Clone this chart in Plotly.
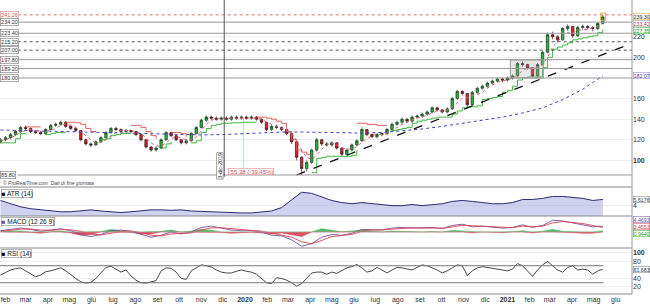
import pandas as pd
import plotly.graph_objects as go
from plotly.subplots import make_subplots

# ---------------- data (weekly) ----------------
start_week = "2019-01-25"
n_weeks = 121
opens = [118,120,122,125,128,132,131,128,127,126,130,134,135,137,133,131,129,120,116,115,
         118,122,127,131,130,128,129,128,125,120,113,110,112,120,127,124,120,117,119,126,
         132,139,142,141,140,141,140,142,141,142,141,142,140,137,130,133,132,130,126,118,
         103,92,98,110,120,116,115,117,112,106,110,115,119,130,125,123,125,126,130,135,
         137,140,138,142,143,145,147,151,149,147,150,160,167,165,154,166,170,172,175,177,
         179,178,180,182,194,193,190,182,193,205,222,220,217,228,230,221,229,230,229,228,233]
closes = [120,122,125,128,132,131,128,127,126,130,134,135,137,133,131,129,120,116,115,118,
          122,127,131,130,128,129,128,125,120,113,110,112,120,127,124,120,117,119,126,132,
          139,142,141,140,141,140,142,141,142,141,142,140,137,130,133,132,130,126,118,103,
          92,98,110,120,116,115,117,112,106,110,115,119,130,125,123,125,126,130,135,137,
          140,138,142,143,145,147,151,149,147,150,160,167,165,154,166,170,172,175,177,179,
          178,180,182,194,193,190,182,193,205,222,220,217,228,230,221,229,230,229,228,233,239.3]
highs = [121.5,123.5,126.5,129.5,133.5,134,132,129.5,128.5,131.5,135.5,136.5,138.5,138,134.5,132,129.5,121,117.5,119.5,
         123.5,128.5,132.5,132.5,131,130.5,130,128.5,125.5,120.5,114,113.5,121.5,128.5,128,124.5,121,120.5,127.5,133.5,
         140.5,143.5,143.5,142.5,142.5,142.5,143.5,143.5,143.5,143.5,143.5,143,141,137.5,134.5,134.5,133,130.5,126.5,118.5,
         104,100,111.5,122,121,118,118.5,117.5,112.5,111.5,116.5,120.5,132,130.5,126,126.5,127.5,131.5,136.5,138.5,
         141.5,141,143.5,144.5,146.5,148.5,152.5,152,150,151.5,161.5,168.5,168,165.5,167.5,171.5,173.5,176.5,178.5,180.5,
         180.5,181.5,183.5,195.5,196,194,190.5,194.5,206.5,224,225,221.5,229.5,232,230.5,230.5,232,231.5,230.5,234.5,241.26]
lows = [116.5,118.5,120.5,123.5,126.5,129,126.5,125.5,124.5,125,129,132.5,133.5,131.5,129.5,127.5,118.5,114.5,113,114,
        117,121,126,128.5,126.5,126.5,126.5,123.5,118.5,111.5,108.5,108.5,111,119,122.5,118.5,115.5,115.5,118,125,
        131,137.5,139.5,138.5,138.5,138.5,138.5,139.5,139.5,139.5,139.5,138.5,135.5,128.5,128.5,130.5,128.5,124.5,116,100,
        85.8,89,96.5,108.5,114,113.5,113.5,110.5,104,104.5,108.5,113.5,118,123.5,121.5,121.5,123.5,124.5,129,133.5,
        135.5,136.5,136.5,140.5,141.5,143.5,145.5,147.5,145.5,145.5,149,159,163,152,153,164.5,168.5,170.5,173.5,175.5,
        176,176.5,178.5,181,191,188,180,181,192,204,217.5,214.5,216,226,219,220,227,227,225.5,226.5,232]

# trailing stop (green = below price, red = above price), weekly
stop_green = [117,117,117,121,126,126,None,None,None,125,126,127,127,127,None,None,None,None,None,None,
              120,121,124,125,126,126,126,None,None,None,None,None,112,116,118,None,None,None,117,119,
              127,131,134,135,136,136,136.5,136.5,137,137,137,137,None,None,None,None,None,None,None,None,
              None,None,88,102,103,104,104,104,104,104,105,110,None,None,None,None,None,None,129,130,
              131,132,136,138,139,140,141,142,142,142,145,148,151,152,152,153,159,160,161,162,
              166,168,172,178,180,181,181,181,190,200,208,210,212,214,217,218,219,220,221,224,227.35]
stop_red = [None,None,None,None,None,132.5,132.5,132.5,132.5,None,None,None,None,137,137,136.5,135,131,128,127,
            None,None,None,None,None,None,134,134,132,128,124,121,None,None,127,127,126,123,None,None,
            None,None,None,None,None,None,None,None,None,None,None,142,142,141,140,138,136,128,120,110,
            108,106,106,None,None,None,None,None,None,None,None,136,136,135,135,134,134,134,None,None,
            None,None,None,None,None,None,None,None,None,None,None,None,None,None,None,None,None,None,None,None,
            None,None,None,None,None,None,None,None,None,None,None,None,None,None,None,None,None,None,None,None,None]

ma_short = [119,120,122,124,127,129,130,129,128,128,129,131,134,135,134,132,128,124,120,117,
            118,120,124,127,129,129,129,128,126,122,117,114,114,117,121,123,122,120,120,123,
            129,135,139,140,141,141,141,141,141,141,141,141,140,137,135,133,131,130,126,119,
            110,103,101,105,111,115,117,115,112,111,111,113,118,121,124,126,125,126,129,132,
            135,137,139,141,142,144,146,148,148,149,152,156,160,161,163,164,166,170,173,176,
            177,178,180,183,187,190,190,190,193,200,210,216,221,224,224,226,227,227,229,230,233.42]

# long moving average, every 4 weeks
ma_long = [129.5,129,128.5,128,127.5,127,126.5,126,125.5,125,124.7,125,126,127,127.5,127.5,
           127,126.5,126.5,127,128.5,130.5,133,136,139,142,146,151,159,169,182.07]

trend_dates = ["2020-03-13", "2021-06-17"]
trend_vals = [85.8, 212.0]

levels = [241.26, 234.20, 223.40, 215.20, 207.00, 197.80, 189.20, 180.00, 85.80]
level_styles = ["reddot", "solid", "solid", "dot", "dot", "solid", "solid", "solid", "solid"]

# indicators, every 2 weeks
atr = [5.35,4.5,3.7,3.2,2.9,2.6,2.4,2.4,2.6,2.9,2.6,2.4,2.2,2.4,2.6,2.9,2.9,2.8,2.9,2.6,
       2.5,2.4,2.2,2.1,2.1,2.1,2.4,2.6,3.5,5.6,7.5,7.2,6.2,5.35,4.8,4.5,4.8,4.5,4.3,4.0,
       4.0,4.3,4.0,4.3,4.5,5.1,5.35,5.1,4.8,4.5,4.5,4.8,5.6,5.6,5.9,6.4,6.4,6.2,5.9,5.35,5.6176]
macd = [1,2,3,2,0.5,1.5,2.5,1,-2,-3.5,-2,1,1.5,0.5,-2,-4,-2.5,0,-1.5,0,
        3.5,4.5,3,1.5,1,1,0,-2.5,-3,-6,-11,-9,-4,-2,-2.5,-1,2,2,1.5,3,
        3.5,3,3,3.5,2.5,5,6,4,4.5,4,3,3.5,5.5,3.5,5,9,8.5,7,5.5,4,4.4693]
signal = [0.5,1.2,2.2,2.3,1.5,1.3,1.8,1.7,0.5,-1.5,-2.3,-1,0.5,0.8,-0.5,-2.5,-3,-1.5,-1,-0.7,
          1.5,3.2,3.3,2.5,1.7,1.2,0.7,-1,-2.3,-4,-7.5,-9,-6.5,-3.5,-2.7,-1.8,0.5,1.5,1.7,2.3,
          3,3.2,3,3.2,3,3.8,5.2,4.8,4.5,4.2,3.5,3.3,4.5,4.2,4.5,7,8,7.5,6.5,5,3.4553]
hist = [0.5,0.8,0.8,-0.3,-1,0.2,0.7,-0.7,-2.5,-2,0.3,2,1,-0.3,-1.5,-1.5,0.5,1.5,-0.5,0.7,
        2,1.3,-0.3,-1,-0.7,-0.2,-0.7,-1.5,-0.7,-2,-3.5,0,2.5,1.5,0.2,0.8,1.5,0.5,-0.2,0.7,
        0.5,-0.2,0,0.3,-0.5,1.2,0.8,-0.8,0,-0.2,-0.5,0.2,1,-0.7,0.5,2,0.5,-0.5,-1,-1,0.944]
# RSI weekly
rsi = [48,55,60,63,65,58,50,44,48,56,58,62,65,58,48,40,32,29,31,40,
       53,66,69,62,55,60,46,36,30,29,32,35,58,65,64,55,40,38,58,66,
       72,70,67,60,55,53,53,57,60,57,55,50,41,30,28,42,40,36,30,22,
       28,40,53,55,55,50,55,52,58,65,68,73,65,55,58,66,60,53,60,66,
       65,62,60,66,72,70,65,60,53,58,65,72,70,47,58,65,68,66,64,62,
       60,58,62,75,70,58,45,60,72,80,70,60,55,66,70,60,62,60,50,58,61.683]

month_ticks = pd.date_range("2019-02-01", "2021-06-01", freq="MS")
month_names = ["gen", "feb", "mar", "apr", "mag", "giu", "lug", "ago", "set", "ott", "nov", "dic"]
tick_text = [f"<b>{d.year}</b>" if d.month == 1 else month_names[d.month - 1] for d in month_ticks]

# ---------------- figure ----------------
dates = pd.date_range(start_week, periods=n_weeks, freq="7D")
d2 = dates[::2]
d4 = dates[::4]

FONT = "Liberation Sans"
fig = make_subplots(rows=4, cols=1, shared_xaxes=True, vertical_spacing=0)

fig.add_trace(go.Candlestick(x=dates, open=opens, high=highs, low=lows, close=closes,
                             increasing=dict(line=dict(color="#1f3d1f", width=0.7), fillcolor="#22b33a"),
                             decreasing=dict(line=dict(color="#3a1a1a", width=0.7), fillcolor="#e0202a"),
                             whiskerwidth=0, showlegend=False), row=1, col=1)
fig.add_trace(go.Scatter(x=dates, y=ma_short, mode="lines", line=dict(color="#e0607a", width=1, dash="dot"),
                         showlegend=False), row=1, col=1)
fig.add_trace(go.Scatter(x=d4, y=ma_long, mode="lines", line=dict(color="#4040c0", width=1, dash="dot"),
                         showlegend=False), row=1, col=1)
fig.add_trace(go.Scatter(x=dates, y=stop_green, mode="lines", line=dict(color="#2fb02f", width=0.9, shape="hv"),
                         connectgaps=False, showlegend=False), row=1, col=1)
fig.add_trace(go.Scatter(x=dates, y=stop_red, mode="lines", line=dict(color="#e05050", width=0.9, shape="hv"),
                         connectgaps=False, showlegend=False), row=1, col=1)
fig.add_trace(go.Scatter(x=trend_dates, y=trend_vals, mode="lines", line=dict(color="#111111", width=1.3, dash="dash"),
                         showlegend=False), row=1, col=1)

# ATR
fig.add_trace(go.Scatter(x=d2, y=atr, mode="lines", fill="tozeroy", fillcolor="rgba(150,150,220,0.45)",
                         line=dict(color="#2a2a70", width=1), showlegend=False), row=2, col=1)
# MACD
hist_pos = [h if h > 0 else 0 for h in hist]
hist_neg = [h if h < 0 else 0 for h in hist]
fig.add_trace(go.Scatter(x=d2, y=hist_pos, mode="lines", fill="tozeroy", fillcolor="rgba(40,170,60,0.8)",
                         line=dict(color="rgba(40,170,60,0.9)", width=0.5), showlegend=False), row=3, col=1)
fig.add_trace(go.Scatter(x=d2, y=hist_neg, mode="lines", fill="tozeroy", fillcolor="rgba(210,40,60,0.8)",
                         line=dict(color="rgba(210,40,60,0.9)", width=0.5), showlegend=False), row=3, col=1)
fig.add_trace(go.Scatter(x=d2, y=macd, mode="lines", line=dict(color="#7050a0", width=0.9), showlegend=False), row=3, col=1)
fig.add_trace(go.Scatter(x=d2, y=signal, mode="lines", line=dict(color="#e04050", width=0.9), showlegend=False), row=3, col=1)
# RSI
fig.add_trace(go.Scatter(x=dates, y=rsi, mode="lines", line=dict(color="#333333", width=0.9), showlegend=False), row=4, col=1)

x_range = ["2019-01-24 07:00", "2021-06-23 17:00"]
axis_font = dict(family=FONT, size=7, color="#333")
common_y = dict(side="right", showgrid=True, gridcolor="#eeeeee", zeroline=False, tickfont=axis_font,
                ticks="", showline=False, fixedrange=True)

fig.update_layout(
    width=650, height=306, margin=dict(l=0, r=18, t=0, b=12),
    paper_bgcolor="white", plot_bgcolor="white", showlegend=False,
    font=dict(family=FONT, size=7, color="#333"),
    xaxis=dict(rangeslider=dict(visible=False)),
)
for ax in ["xaxis", "xaxis2", "xaxis3", "xaxis4"]:
    fig.layout[ax].update(range=x_range, showgrid=False, zeroline=False, showline=False, ticks="",
                          rangeslider=dict(visible=False))
fig.layout.xaxis4.update(tickvals=list(month_ticks), ticktext=tick_text, tickfont=axis_font, showticklabels=True)
for ax in ["xaxis", "xaxis2", "xaxis3"]:
    fig.layout[ax].update(showticklabels=False)

fig.layout.yaxis.update(domain=[0.3946, 1], range=[82.9, 255.7], tickvals=[100, 120, 140, 160, 200, 220],
                        ticktext=["<b>100</b>", "120", "140", "160", "200", "220"], **common_y)
fig.layout.yaxis2.update(domain=[0.2653, 0.3639], range=[1.3, 8.86], tickvals=[4], ticktext=["4"], **common_y)
fig.layout.yaxis3.update(domain=[0.1565, 0.2653], range=[-12.3, 12.3], tickvals=[], **common_y)
fig.layout.yaxis4.update(domain=[0.0, 0.1565], range=[3.5, 111.8], tickvals=[20, 40, 80, 100],
                         ticktext=["20", "40", "80", "<b>100</b>"], **common_y)

# level lines
for lv, st in zip(levels, level_styles):
    if st == "reddot":
        ln = dict(color="#e07070", width=1, dash="dot")
    elif st == "dot":
        ln = dict(color="#555555", width=1, dash="dot")
    else:
        ln = dict(color="#999999", width=1)
    fig.add_shape(type="line", xref="paper", yref="y", x0=0.028, x1=1, y0=lv, y1=lv, line=ln)
    fig.add_annotation(xref="paper", yref="y", x=0.0, y=lv, xanchor="left", yanchor="middle",
                       text=f"{lv:.2f}", showarrow=False, font=dict(family=FONT, size=5.5,
                       color="#e05050" if st == "reddot" else "#333"),
                       bgcolor="white", bordercolor="#e08080" if st == "reddot" else "#777",
                       borderwidth=0.6, borderpad=0.5)

# panel separators
for yp in [0.3639, 0.2653, 0.1565, 0.0]:
    fig.add_shape(type="line", xref="paper", yref="paper", x0=0, x1=1, y0=yp, y1=yp,
                  line=dict(color="#888", width=1))
fig.add_shape(type="line", xref="paper", yref="paper", x0=1, x1=1, y0=0, y1=1, line=dict(color="#999", width=1))

# RSI 70/30 lines
for v in [70, 30]:
    fig.add_shape(type="line", xref="x4 domain", yref="y4", x0=0, x1=0.955, y0=v, y1=v,
                  line=dict(color="#777", width=1))
# MACD zero line
fig.add_shape(type="line", xref="x3 domain", yref="y3", x0=0, x1=0.955, y0=0, y1=0,
              line=dict(color="#bbb", width=0.6))

# vertical date marker
fig.add_shape(type="line", xref="x", yref="y", x0="2019-12-03", x1="2019-12-03", y0=84, y1=255.7,
              line=dict(color="#555", width=1))
fig.add_annotation(xref="x", yref="y", x="2019-11-27", y=95, text="3-dic-2019", textangle=-90, showarrow=False,
                   font=dict(family=FONT, size=5.5, color="#333"), bgcolor="white", bordercolor="#777",
                   borderwidth=0.6, borderpad=0)
# measurement
fig.add_shape(type="line", xref="x", yref="y", x0="2019-12-30", x1="2019-12-30", y0=89, y1=141,
              line=dict(color="rgba(230,150,150,0.5)", width=1))
fig.add_annotation(xref="x", yref="y", x="2020-01-10", y=89, text="-55.38 (-39.45%)", showarrow=False,
                   font=dict(family=FONT, size=6, color="#d05050"), bgcolor="white", bordercolor="#e09090",
                   borderwidth=0.6, borderpad=0)
# highlight box
fig.add_shape(type="rect", xref="x", yref="y", x0="2021-01-05", x1="2021-02-20", y0=180, y1=197.5,
              fillcolor="rgba(160,160,160,0.25)", line=dict(color="#999", width=1))
# last candle marker
fig.add_shape(type="rect", xref="x", yref="y", x0="2021-05-11", x1="2021-05-18", y0=236, y1=243,
              line=dict(color="#f0a040", width=1))

# right value labels
def rlabel(yref, y, text, color, border):
    fig.add_annotation(xref="paper", yref=yref, x=1.001, y=y, xanchor="left", yanchor="middle", text=text,
                       showarrow=False, font=dict(family=FONT, size=5.3, color=color), bgcolor="white",
                       bordercolor=border, borderwidth=0.5, borderpad=0)

rlabel("y", 239.3, "239.30", "#333", "#f0a040")
rlabel("y", 232.6, "233.42", "#c04060", "#999")
rlabel("y", 226.2, "227.35", "#2a9a2a", "#2fb02f")
rlabel("y", 182.07, "182.07", "#4040c0", "#8080d0")
rlabel("y2", 5.6176, "5.6176", "#333", "#777")
rlabel("y3", 9.6, "4.4693", "#7050a0", "#7050a0")
rlabel("y3", 4.2, "3.4553", "#e04050", "#e04050")
rlabel("y3", -1.3, "0.9440", "#2a9a2a", "#2fb02f")
rlabel("y4", 61.683, "61.683", "#333", "#777")

# panel titles
def ptitle(y_paper, text):
    fig.add_annotation(xref="paper", yref="paper", x=0.002, y=y_paper, xanchor="left", yanchor="top", text=text,
                       showarrow=False, font=dict(family=FONT, size=6.5, color="#111"), bgcolor="white",
                       bordercolor="#888", borderwidth=0.6, borderpad=0)

ptitle(0.357, "<span style='color:#000'>■</span> ATR (14)")
ptitle(0.2605, "<span style='color:#7050a0'>■</span> MACD (12 26 9)")
ptitle(0.152, "<span style='color:#000'>■</span> RSI (14)")
fig.add_annotation(xref="paper", yref="paper", x=0.002, y=0.3779, xanchor="left", yanchor="middle",
                   text="<i>© ProRealTime.com  Dati di fine giornata</i>", showarrow=False,
                   font=dict(family=FONT, size=5, color="#444"))

fig.write_html("out.html")
